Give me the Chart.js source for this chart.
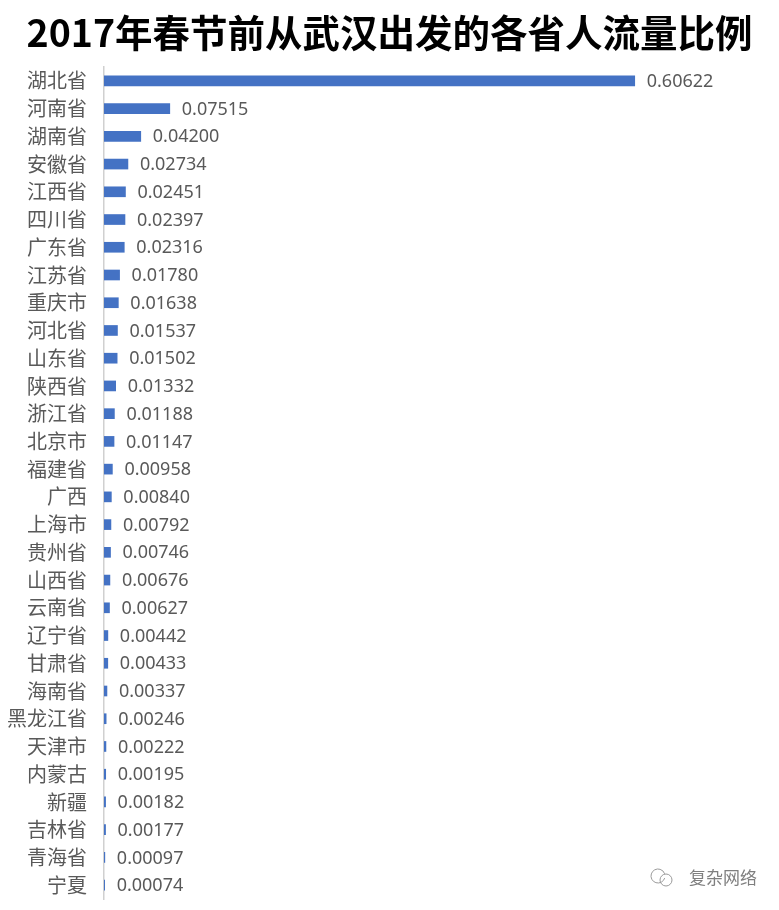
<!DOCTYPE html>
<html>
<head>
<meta charset="utf-8">
<script src="https://cdn.jsdelivr.net/npm/chart.js@4/dist/chart.umd.min.js"></script>
<style>
  html, body { margin: 0; padding: 0; background: #fff; overflow: hidden; }
</style>
</head>
<body>
<canvas id="grafico" width="779" height="910"></canvas>
<script>
  // datos
  var provincias = ['湖北省', '河南省', '湖南省', '安徽省', '江西省', '四川省', '广东省', '江苏省', '重庆市', '河北省',
    '山东省', '陕西省', '浙江省', '北京市', '福建省', '广西', '上海市', '贵州省', '山西省', '云南省',
    '辽宁省', '甘肃省', '海南省', '黑龙江省', '天津市', '内蒙古', '新疆', '吉林省', '青海省', '宁夏'];
  var proporciones = [0.60622, 0.07515, 0.04200, 0.02734, 0.02451, 0.02397, 0.02316, 0.01780, 0.01638, 0.01537,
    0.01502, 0.01332, 0.01188, 0.01147, 0.00958, 0.00840, 0.00792, 0.00746, 0.00676, 0.00627,
    0.00442, 0.00433, 0.00337, 0.00246, 0.00222, 0.00195, 0.00182, 0.00177, 0.00097, 0.00074];
  var titulo = '2017年春节前从武汉出发的各省人流量比例';
  var marcaAgua = '复杂网络';

  // etiquetas de valor a la derecha de cada barra
  var etiquetas = {
    id: 'etiquetas',
    afterDatasetsDraw: function(chart) {
      var ctx = chart.ctx;
      var meta = chart.getDatasetMeta(0);
      ctx.save();
      ctx.font = '18px "Noto Sans", "DejaVu Sans", sans-serif';
      ctx.fillStyle = '#595959';
      ctx.textBaseline = 'middle';
      ctx.textAlign = 'left';
      meta.data.forEach(function(bar, i) {
        ctx.fillText(proporciones[i].toFixed(5), bar.x + 12, bar.y + 1);
      });
      // marca de agua
      ctx.font = '17px "Noto Sans CJK SC", sans-serif';
      ctx.fillStyle = '#7f7f7f';
      ctx.textAlign = 'right';
      ctx.fillText(marcaAgua, 757, 878);
      ctx.strokeStyle = '#9a9a9a';
      ctx.lineWidth = 1;
      ctx.beginPath();
      ctx.arc(658, 876, 7, 0.3, Math.PI * 1.9);
      ctx.stroke();
      ctx.beginPath();
      ctx.arc(666, 880, 6, 0, Math.PI * 2);
      ctx.stroke();
      ctx.restore();
    }
  };

  var ctx = document.getElementById('grafico').getContext('2d');
  var grafico = new Chart(ctx, {
    type: 'bar',
    data: {
      labels: provincias,
      datasets: [
        {
          data: proporciones,
          backgroundColor: '#4472C4',
          barThickness: 10
        }
      ]
    },
    options: {
      indexAxis: 'y',
      responsive: false,
      animation: false,
      layout: { padding: { left: 0, right: 0, top: 0, bottom: 11 } },
      plugins: {
        legend: { display: false },
        tooltip: { enabled: false },
        title: {
          display: true,
          text: titulo,
          color: '#000',
          font: { size: 37.5, weight: 'bold', family: '"Noto Sans CJK SC", sans-serif' },
          padding: { top: 10, bottom: 12 }
        }
      },
      scales: {
        x: {
          display: false,
          min: 0,
          max: 0.771
        },
        y: {
          offset: true,
          grid: { display: false, drawTicks: false },
          border: { display: true, color: '#d0d0d0', width: 1.5 },
          ticks: {
            color: '#595959',
            padding: 17,
            autoSkip: false,
            font: { size: 20, family: '"Noto Sans CJK SC", sans-serif' }
          },
          afterFit: function(scale) {
            scale.width = 104;
            scale.paddingTop = 0;
            scale.paddingBottom = 0;
          }
        }
      }
    },
    plugins: [etiquetas]
  });
</script>
</body>
</html>
